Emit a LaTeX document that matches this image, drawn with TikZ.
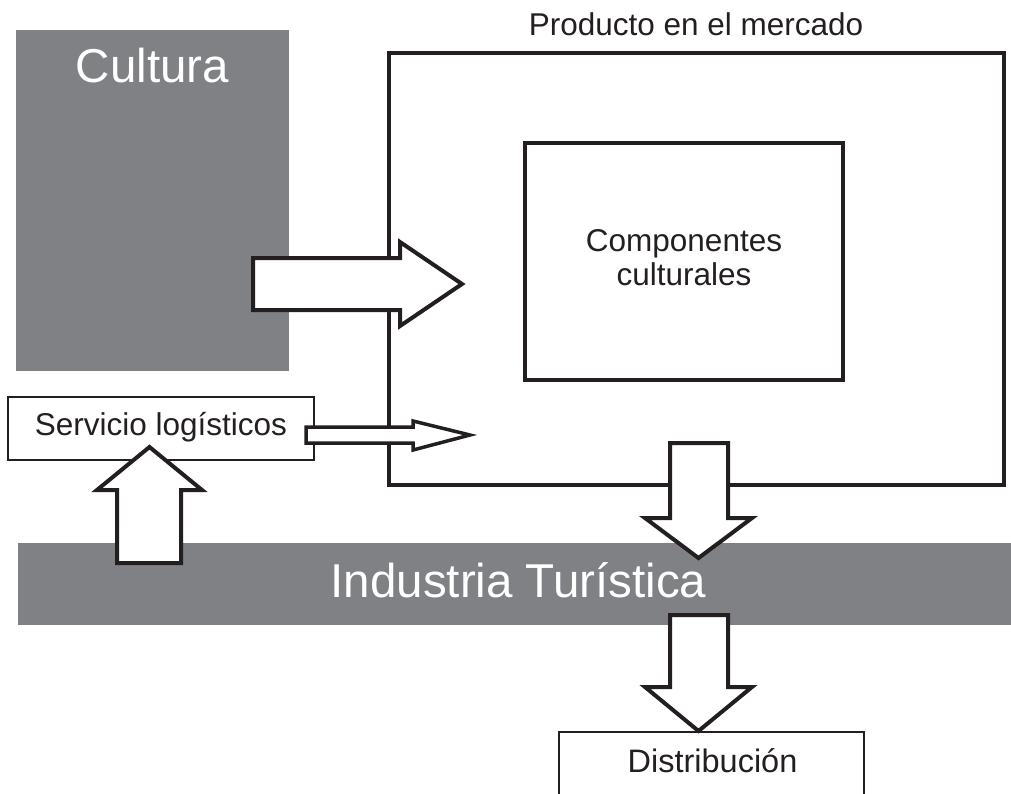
\documentclass[tikz,border=0pt]{standalone}
\usepackage{fontspec}
\setmainfont{Liberation Sans}
\definecolor{ink}{HTML}{231F20}
\definecolor{bandgray}{HTML}{808185}
\begin{document}
\begin{tikzpicture}[x=1pt,y=-1pt,
  graybox/.style={fill=bandgray,draw=none,inner sep=0pt,minimum width=#1},
  framebox/.style={draw=ink,inner sep=0pt},
  fatarrow/.style={draw=ink,fill=white,line width=4pt,miter limit=10,line join=miter},
  lbl/.style={anchor=base,inner sep=0pt,text=ink},
  wlbl/.style={anchor=base,inner sep=0pt,text=white}]
\clip (0,0) rectangle (1011,793);
\useasboundingbox (0,0) rectangle (1011,793);

% Cultura block
\node[graybox=273pt,minimum height=341pt] (cultura) at (152.5,200.5) {};
\node[wlbl,font=\fontsize{47.5}{52}\selectfont] (culturat) at (152.5,82) {Cultura};

% Producto en el mercado
\node[framebox,line width=3.5pt,minimum width=615pt,minimum height=432pt] (prod) at (696.5,269) {};
\node[lbl,font=\fontsize{31.5}{36}\selectfont] (prodt) at (696,35) {Producto en el mercado};

% Componentes culturales
\node[framebox,line width=3.5pt,minimum width=318pt,minimum height=237pt] (comp) at (684,261.5) {};
\node[inner sep=0pt,text=ink,align=center,font=\fontsize{31.5}{34}\selectfont] (compt) at (684,257.5) {Componentes\\culturales};

% Servicio logisticos
\node[framebox,line width=1.5pt,minimum width=306pt,minimum height=63pt] (serv) at (161,428.5) {};
\node[lbl,font=\fontsize{31.5}{36}\selectfont] (servt) at (161,435) {Servicio logísticos};

% Industria Turistica band
\node[graybox=993pt,minimum height=82pt] (ind) at (514.5,584) {};

% Distribucion box (cut by the lower edge)
\node[inner sep=0pt,minimum width=305pt,minimum height=80pt] (dist) at (711.5,772) {};
\draw[ink,line width=1.5pt] (dist.south west) -- (dist.north west) -- (dist.north east) -- (dist.south east);
\node[lbl,font=\fontsize{32.5}{36}\selectfont] (distt) at (712.5,772) {Distribución};

% block arrows
\draw[fatarrow] (253,258) -- (400,258) -- (400,242) -- (462,284) -- (400,326) -- (400,310) -- (253,310) -- cycle;
\draw[fatarrow,line width=3.5pt] (306,427) -- (413,427) -- (413,421) -- (470,435) -- (413,450) -- (413,443) -- (306,443) -- cycle;
\draw[fatarrow] (117,563) -- (117,490) -- (97,490) -- (149.5,447) -- (202,490) -- (181,490) -- (181,563) -- cycle;
\draw[fatarrow] (670,443) -- (670,518) -- (645,518) -- (698.5,558) -- (752,518) -- (728,518) -- (728,443) -- cycle;
\draw[fatarrow] (670,615) -- (670,687) -- (645,687) -- (698.5,731) -- (752,687) -- (728,687) -- (728,615) -- cycle;

\node[wlbl,font=\fontsize{47.5}{54}\selectfont] (indt) at (518.5,597) {Industria Turística};
\end{tikzpicture}
\end{document}
